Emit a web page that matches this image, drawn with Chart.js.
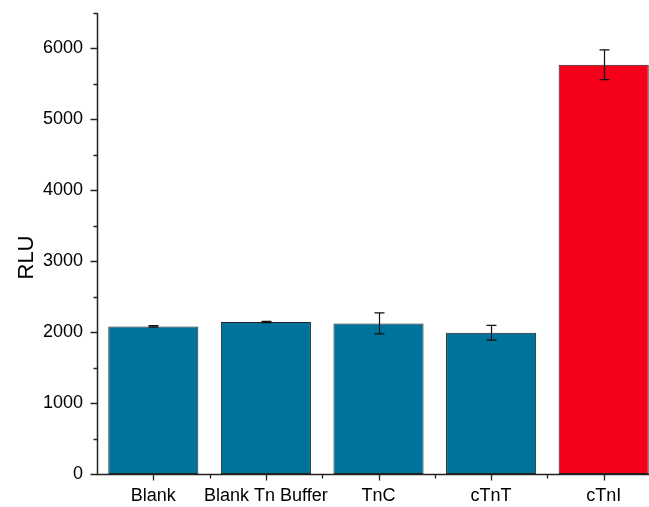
<!DOCTYPE html>
<html><head><meta charset="utf-8">
<script src="https://cdn.jsdelivr.net/npm/chart.js@4"></script>
<style>html,body{margin:0;padding:0;background:#fff;overflow:hidden;width:649px;height:507px}#wrap{width:649px;height:507px;overflow:hidden}</style>
</head><body>
<div id="wrap"><canvas id="c" width="660" height="507"></canvas></div>
<script>
const categories = ['Blank', 'Blank Tn Buffer', 'TnC', 'cTnT', 'cTnI'];
const rluValues = [2081, 2143, 2123, 1992, 5770];
const rluErrors = [10, 8, 148, 104, 210];
const barColors = ['#00739d', '#00739d', '#00739d', '#00739d', '#f5001a'];
const yTitle = 'RLU';
const yMax = 6500;
const yStep = 500;
const yLabelStep = 1000;

const axesAndErrors = {
  id: 'axesAndErrors',
  afterDatasetsDraw(chart) {
    const ctx = chart.ctx, xs = chart.scales.x, ys = chart.scales.y;
    const meta = chart.getDatasetMeta(0);
    const ca = chart.chartArea;
    ctx.save();
    ctx.strokeStyle = '#111';
    ctx.lineWidth = 1.2;
    rluValues.forEach((v, i) => {
      const px = Math.round(meta.data[i].x) + 0.5;
      const t = ys.getPixelForValue(v + rluErrors[i]);
      const b = ys.getPixelForValue(v - rluErrors[i]);
      ctx.beginPath();
      ctx.moveTo(px, t); ctx.lineTo(px, b);
      ctx.moveTo(px - 5, t); ctx.lineTo(px + 5, t);
      ctx.moveTo(px - 5, b); ctx.lineTo(px + 5, b);
      ctx.stroke();
    });
    ctx.strokeStyle = '#222';
    ctx.lineWidth = 1.5;
    const ax = Math.round(ca.left) + 0.5;
    const ay = Math.round(ca.bottom) + 0.5;
    ctx.beginPath();
    ctx.moveTo(ax, ys.getPixelForValue(yMax));
    ctx.lineTo(ax, ay);
    ctx.lineTo(chart.width, ay);
    ctx.stroke();
    ctx.lineWidth = 1.3;
    ctx.beginPath();
    for (let v = 0; v <= yMax; v += yStep) {
      const py = Math.round(ys.getPixelForValue(v)) + 0.5;
      const len = (v % yLabelStep === 0) ? 7 : 4;
      ctx.moveTo(ax - len, py); ctx.lineTo(ax, py);
    }
    categories.forEach((c, i) => {
      const px = Math.round(xs.getPixelForValue(i)) + 0.5;
      ctx.moveTo(px, ay); ctx.lineTo(px, ay + 6);
      if (i < categories.length - 1) {
        const mx = Math.round((xs.getPixelForValue(i) + xs.getPixelForValue(i + 1)) / 2) + 0.5;
        ctx.moveTo(mx, ay); ctx.lineTo(mx, ay + 4);
      }
    });
    ctx.stroke();
    // y axis title
    ctx.fillStyle = '#000';
    ctx.font = '22px "Liberation Sans"';
    ctx.textAlign = 'center';
    ctx.textBaseline = 'middle';
    ctx.translate(27, (ca.top + ca.bottom) / 2 + 14);
    ctx.rotate(-Math.PI / 2);
    ctx.fillText(yTitle, 0, 0);
    ctx.restore();
  }
};

new Chart(document.getElementById('c'), {
  type: 'bar',
  data: {
    labels: categories,
    datasets: [{
      data: rluValues,
      backgroundColor: barColors,
      borderColor: '#222',
      borderWidth: 1,
      borderSkipped: false,
      categoryPercentage: 1.0,
      barPercentage: 0.8
    }]
  },
  options: {
    responsive: false,
    animation: false,
    devicePixelRatio: 1,
    layout: { padding: { top: 13, right: 0, left: 0, bottom: 0 } },
    plugins: { legend: { display: false }, tooltip: { enabled: false } },
    scales: {
      x: {
        type: 'category',
        offset: true,
        grid: { display: false, drawTicks: false },
        border: { display: false },
        ticks: {
          color: '#000', padding: 11, maxRotation: 0, autoSkip: false,
          font: { family: 'Liberation Sans', size: 18 }
        },
        afterFit(s) { s.height = 33; s.paddingLeft = 0; s.paddingRight = 0; }
      },
      y: {
        type: 'linear',
        min: 0, max: yMax,
        grid: { display: false, drawTicks: false },
        border: { display: false },
        ticks: {
          stepSize: yStep, autoSkip: false, color: '#000', padding: 14,
          font: { family: 'Liberation Sans', size: 18 },
          callback: v => (v % yLabelStep === 0 ? String(v) : '')
        },
        title: { display: false },
        afterFit(s) { s.width = 97; s.paddingTop = 0; s.paddingBottom = 0; }
      }
    }
  },
  plugins: [axesAndErrors]
});
</script>
</body></html>
